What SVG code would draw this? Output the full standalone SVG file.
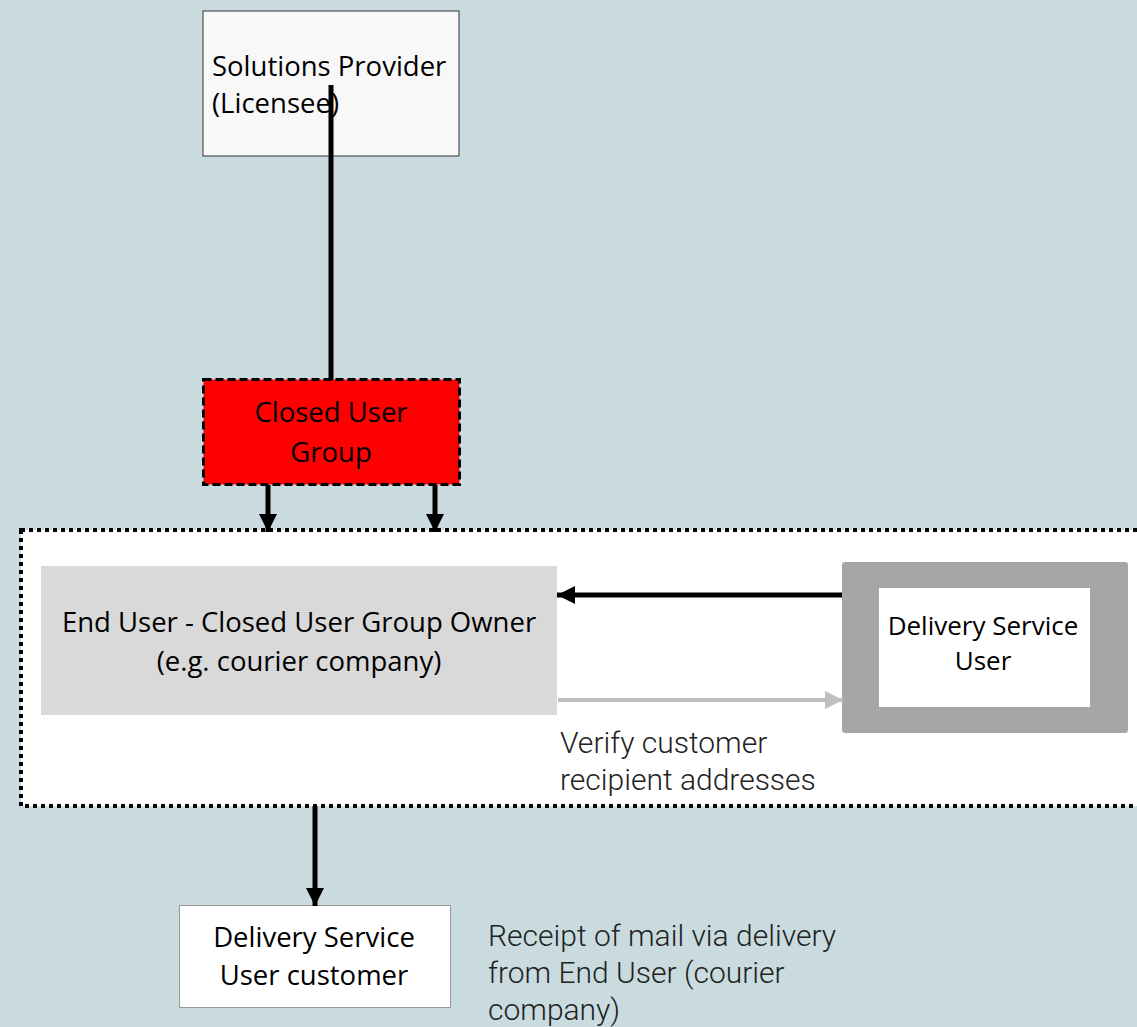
<svg xmlns="http://www.w3.org/2000/svg" width="1137" height="1027" viewBox="0 0 1137 1027">
<defs>
<style>
.box{font-family:"Open Sans","Noto Sans",sans-serif;font-size:27.5px;fill:#000}
.sm{font-size:26px}
.lbl{font-family:Roboto,"Noto Sans",sans-serif;font-size:30px;fill:#222;font-weight:300}
.c{text-anchor:middle}
</style>
<marker id="ah" viewBox="0 0 10 10" refX="10" refY="5" markerWidth="18" markerHeight="18" orient="auto" markerUnits="userSpaceOnUse"><path d="M0,0 L10,5 L0,10 z" fill="#000"/></marker>
<marker id="ag" viewBox="0 0 10 10" refX="10" refY="5" markerWidth="18" markerHeight="18" orient="auto" markerUnits="userSpaceOnUse"><path d="M0,0 L10,5 L0,10 z" fill="#bfbfbf"/></marker>
</defs>
<rect width="1137" height="1027" fill="#c9dbdf"/>
<g id="container">
<rect x="21" y="530" width="1130" height="276" fill="#fff" stroke="#000" stroke-width="4" stroke-dasharray="4 4"/>
</g>
<g id="solutions-provider">
<rect x="203" y="11" width="256" height="145" fill="#f8f8f8" stroke="#333" stroke-width="1"/>
<text class="box" x="212" y="76">Solutions Provider</text>
<text class="box" x="212" y="113">(Licensee)</text>
</g>
<g id="closed-user-group">
<rect x="203.5" y="379.5" width="256" height="105" fill="#ff0000" stroke="#000" stroke-width="3" stroke-dasharray="8 4"/>
<text class="box c" x="331" y="422">Closed User</text>
<text class="box c" x="331" y="462">Group</text>
</g>
<g id="end-user">
<rect x="41" y="566" width="516" height="149" fill="#d9d9d9"/>
<text class="box c" x="299" y="632">End User - Closed User Group Owner</text>
<text class="box c" x="299" y="671">(e.g. courier company)</text>
</g>
<g id="delivery-service-user">
<rect x="842" y="562" width="286" height="171" rx="3" fill="#a6a6a6"/>
<rect x="879" y="588" width="211" height="119" fill="#fff"/>
<text class="box c sm" x="983" y="635">Delivery Service</text>
<text class="box c sm" x="983" y="670">User</text>
</g>
<g id="dsu-customer">
<rect x="179.5" y="905.5" width="271" height="102" fill="#fff" stroke="#999" stroke-width="1"/>
<text class="box c" x="314" y="947">Delivery Service</text>
<text class="box c" x="314" y="985">User customer</text>
</g>
<g id="connectors" fill="none">
<line x1="331" y1="85" x2="331" y2="380" stroke="#000" stroke-width="5"/>
<line x1="268" y1="485" x2="268" y2="532" stroke="#000" stroke-width="5" marker-end="url(#ah)"/>
<line x1="435" y1="485" x2="435" y2="532" stroke="#000" stroke-width="5" marker-end="url(#ah)"/>
<line x1="842" y1="595" x2="557" y2="595" stroke="#000" stroke-width="5" marker-end="url(#ah)"/>
<line x1="558" y1="700" x2="843" y2="700" stroke="#bfbfbf" stroke-width="4" marker-end="url(#ag)"/>
<line x1="315" y1="806" x2="315" y2="906" stroke="#000" stroke-width="5" marker-end="url(#ah)"/>
</g>
<g id="labels">
<text class="lbl" x="560" y="753">Verify customer</text>
<text class="lbl" x="560" y="790">recipient addresses</text>
<text class="lbl" x="488" y="946">Receipt of mail via delivery</text>
<text class="lbl" x="488" y="983">from End User (courier</text>
<text class="lbl" x="488" y="1020">company)</text>
</g>
</svg>
